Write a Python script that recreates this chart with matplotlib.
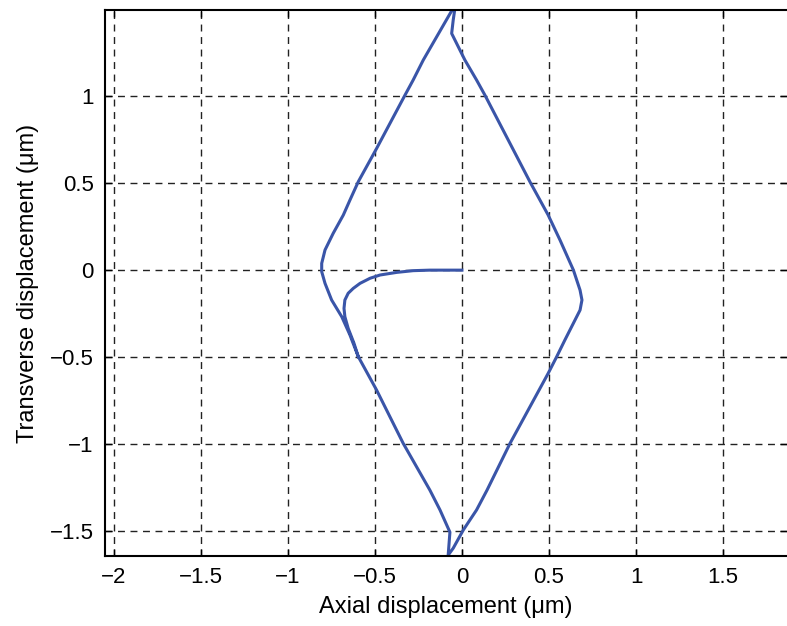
import numpy as np
import matplotlib
matplotlib.use("Agg")
import matplotlib.pyplot as plt

plt.rcParams['font.family'] = ['Liberation Sans', 'DejaVu Sans']

# trajectory of the tip: start at origin, hook left, then round the diamond
axial = [0.0, -0.184, -0.28, -0.375, -0.47, -0.528, -0.585, -0.624, -0.653, -0.672,
         -0.677, -0.672, -0.653, -0.62,
         -0.595, -0.49, -0.337, -0.184, -0.126, -0.069, -0.079,
         -0.05, 0.008, 0.084, 0.144, 0.276, 0.495, 0.544, 0.591, 0.678, 0.689, 0.678,
         0.64, 0.563, 0.495, 0.39, 0.132, 0.084, 0.017, -0.059, -0.05, -0.04,
         -0.05, -0.222, -0.28, -0.327, -0.49, -0.595, -0.643, -0.681, -0.739, -0.786,
         -0.805, -0.805, -0.786, -0.748, -0.69, -0.643, -0.595]
transverse = [0.0, 0.0, -0.003, -0.013, -0.028, -0.047, -0.076, -0.105, -0.133, -0.172,
              -0.22, -0.268, -0.335, -0.42,
              -0.498, -0.69, -0.997, -1.266, -1.38, -1.508, -1.64,
              -1.60, -1.495, -1.38, -1.266, -0.997, -0.594, -0.498, -0.402, -0.23, -0.172, -0.115,
              0.0, 0.173, 0.317, 0.509, 1.007, 1.094, 1.209, 1.362, 1.44, 1.508,
              1.508, 1.209, 1.094, 1.007, 0.70, 0.509, 0.403, 0.317, 0.212, 0.116,
              0.039, -0.009, -0.076, -0.172, -0.268, -0.373, -0.498]

xticks = [-2, -1.5, -1, -0.5, 0, 0.5, 1, 1.5]
yticks = [-1.5, -1, -0.5, 0, 0.5, 1]

fig = plt.figure(figsize=(7.87, 6.26), dpi=100)
ax = fig.add_axes([105 / 787, 1 - 556 / 626, 1 - 105 / 787, (556 - 10) / 626])

ax.plot(axial, transverse, color='#3a55a8', lw=2.2, solid_joinstyle='round')

ax.set_xlim(-2.049, 1.866)
ax.set_ylim(-1.645, 1.497)
ax.set_xticks(xticks)
ax.set_yticks(yticks)
ax.set_xticklabels([f"{t:g}".replace('-', '\u2212') for t in xticks])
ax.set_yticklabels([f"{t:g}".replace('-', '\u2212') for t in yticks])

ax.grid(True, color='#222222', ls=(0, (5, 4)), lw=1.0)
ax.tick_params(direction='in', length=5, width=1, labelsize=16, top=True, right=True,
               pad=8)
for side in ['left', 'bottom', 'top']:
    ax.spines[side].set_linewidth(1.5)
ax.spines['right'].set_visible(False)

ax.set_xlabel('Axial displacement (\u03bcm)', fontsize=17, labelpad=6)
ax.set_ylabel('Transverse displacement (\u03bcm)', fontsize=17, labelpad=8)

fig.savefig('out.png', dpi=100)
